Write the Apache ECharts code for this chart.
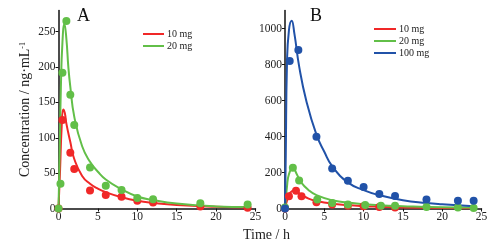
<!DOCTYPE html>
<html><head><meta charset="utf-8">
<script src="https://cdn.jsdelivr.net/npm/echarts@6/dist/echarts.min.js"></script>
<style>html,body{margin:0;padding:0;background:#fff}#c{width:498px;height:248px}</style>
</head><body><div id="c"></div>
<script>
// ---- Panel A data ----
const aRedPtT = [0, 0.5, 1.5, 2, 4, 6, 8, 10, 12, 18, 24];
const aRedPtV = [0, 125, 79, 56, 25.5, 19, 16.5, 11, 8.5, 3, 1];
const aGreenPtT = [0, 0.25, 0.5, 1, 1.5, 2, 4, 6, 8, 10, 12, 18, 24];
const aGreenPtV = [0, 35, 192, 265, 161, 118, 58, 32, 26, 15, 13, 7.5, 5.5];
const aRedFitT = [0, 0.2, 0.4, 0.6, 0.8, 1.0, 1.5, 2, 3, 4, 5, 6, 8, 10, 12, 15, 20, 24];
const aRedFitV = [0, 55, 115, 140, 135, 120, 94, 70, 46, 35, 28, 23, 16, 11, 8, 5, 2.5, 1.5];
const aGreenFitT = [0, 0.15, 0.3, 0.5, 0.75, 1.0, 1.25, 1.5, 2, 3, 4, 5, 6, 8, 10, 12, 15, 20, 24];
const aGreenFitV = [0, 80, 170, 235, 261, 240, 200, 172, 130, 88, 66, 52, 41, 27, 17, 12, 7, 3, 2];
// ---- Panel B data ----
const bRedPtT = [0, 0.5, 1.4, 2.1, 4, 6, 8, 10, 12, 14];
const bRedPtV = [0, 68, 98, 68, 35, 22, 15, 12, 8, 6];
const bGreenPtT = [0, 1, 1.8, 4.1, 6, 8, 10.2, 12.2, 14, 18, 22, 24];
const bGreenPtV = [5, 226, 155, 50, 31, 22, 20, 15, 15, 9, 5, 3];
const bBluePtT = [0, 0.6, 1.7, 4, 6, 8, 10, 12, 14, 18, 22, 24];
const bBluePtV = [0, 820, 880, 398, 222, 154, 120, 81, 70, 50, 43, 43];
const bRedFitT = [0, 0.3, 0.6, 1.2, 2, 3, 4, 6, 8, 10, 12, 15, 20, 24];
const bRedFitV = [0, 50, 85, 100, 78, 55, 42, 27, 19, 13, 10, 6, 3, 2];
const bGreenFitT = [0, 0.25, 0.5, 1, 1.5, 2, 3, 4, 6, 8, 10, 12, 15, 20, 24];
const bGreenFitV = [0, 120, 190, 226, 190, 148, 102, 74, 46, 33, 24, 18, 13, 7, 5];
const bBlueFitT = [0, 0.1, 0.25, 0.5, 0.85, 1.2, 1.8, 2.7, 4, 5, 6, 8, 10, 12, 15, 18, 20, 24];
const bBlueFitV = [0, 300, 800, 990, 1043, 970, 790, 600, 410, 315, 235, 145, 102, 74, 46, 31, 24, 13];
// ---- ticks / labels ----
const xTicks = [0, 5, 10, 15, 20, 25];
const aYTicks = [0, 50, 100, 150, 200, 250];
const bYTicks = [0, 200, 400, 600, 800, 1000];
const legendA = ['10 mg', '20 mg'];
const legendB = ['10 mg', '20 mg', '100 mg'];

const RED = '#f02828', GREEN = '#62bf48', BLUE = '#2152a8';
const FONT = 'Liberation Serif';
const zip = (t, v) => t.map((x, i) => [x, v[i]]);

const axisCommon = {
  axisLine: { show: true, lineStyle: { color: '#111', width: 1.5 } },
  axisTick: { show: true, length: 3, lineStyle: { color: '#111' } },
  splitLine: { show: false },
  axisLabel: { color: '#222', fontFamily: FONT, fontSize: 11.5, margin: 3, formatter: v => String(v) }
};
function xAxis(gi) {
  return Object.assign({}, axisCommon, {
    type: 'value', gridIndex: gi, min: 0, max: 25, interval: 5,
    axisLabel: Object.assign({}, axisCommon.axisLabel, { customValues: xTicks, margin: 2 }),
    axisTick: Object.assign({}, axisCommon.axisTick, { customValues: xTicks })
  });
}
function yAxis(gi, max, ticks, name) {
  const o = Object.assign({}, axisCommon, {
    type: 'value', gridIndex: gi, min: 0, max: max,
    axisLabel: Object.assign({}, axisCommon.axisLabel, { customValues: ticks }),
    axisTick: Object.assign({}, axisCommon.axisTick, { customValues: ticks })
  });
  if (name) {
    o.name = name;
    o.nameLocation = 'middle';
    o.nameRotate = 90;
    o.nameGap = 26;
    o.nameTextStyle = {
      fontFamily: FONT, fontSize: 14, color: '#222',
      rich: { s: { fontFamily: FONT, fontSize: 8, color: '#222', verticalAlign: 'top', padding: [0, 0, 6, 0] } }
    };
  }
  return o;
}
function fit(name, t, v, color, xi) {
  return { type: 'line', name: name, xAxisIndex: xi, yAxisIndex: xi, data: zip(t, v),
    smooth: 0.5, showSymbol: false, symbol: 'none',
    lineStyle: { color: color, width: 2 }, itemStyle: { color: color }, z: 2 };
}
function pts(t, v, color, xi) {
  return { type: 'scatter', xAxisIndex: xi, yAxisIndex: xi, data: zip(t, v),
    symbolSize: 8, itemStyle: { color: color, opacity: 1 }, z: 3 };
}

const chart = echarts.init(document.getElementById('c'), null, { renderer: 'canvas' });
chart.setOption({
  animation: false,
  backgroundColor: '#fff',
  grid: [
    { left: 58.5, top: 10.5, width: 197, height: 198 },
    { left: 285, top: 10.5, width: 196.5, height: 198 }
  ],
  xAxis: [xAxis(0), xAxis(1)],
  yAxis: [
    yAxis(0, 280, aYTicks, 'Concentration / ng·mL{s|-1}'),
    yAxis(1, 1100, bYTicks, null)
  ],
  legend: [
    { data: ['A10', 'A20'], orient: 'vertical', left: 138, top: 23, itemWidth: 21, itemHeight: 2, itemGap: 0,
      icon: 'rect', formatter: n => legendA[['A10', 'A20'].indexOf(n)],
      textStyle: { fontFamily: FONT, fontSize: 10, color: '#222', lineHeight: 12, padding: [0, 0, 0, -2] } },
    { data: ['B10', 'B20', 'B100'], orient: 'vertical', left: 369, top: 18, itemWidth: 22, itemHeight: 2, itemGap: 0,
      icon: 'rect', formatter: n => legendB[['B10', 'B20', 'B100'].indexOf(n)],
      textStyle: { fontFamily: FONT, fontSize: 10, color: '#222', lineHeight: 12, padding: [0, 0, 0, -2] } }
  ],
  graphic: [
    { type: 'text', left: 77, top: 7, style: { text: 'A', font: '18px "Liberation Serif"', fill: '#111' } },
    { type: 'text', left: 310, top: 7, style: { text: 'B', font: '18px "Liberation Serif"', fill: '#111' } },
    { type: 'text', left: 243, top: 228, style: { text: 'Time / h', font: '14px "Liberation Serif"', fill: '#222' } }
  ],
  series: [
    fit('A10', aRedFitT, aRedFitV, RED, 0),
    fit('A20', aGreenFitT, aGreenFitV, GREEN, 0),
    pts(aRedPtT, aRedPtV, RED, 0),
    pts(aGreenPtT, aGreenPtV, GREEN, 0),
    fit('B10', bRedFitT, bRedFitV, RED, 1),
    fit('B20', bGreenFitT, bGreenFitV, GREEN, 1),
    fit('B100', bBlueFitT, bBlueFitV, BLUE, 1),
    pts(bRedPtT, bRedPtV, RED, 1),
    pts(bGreenPtT, bGreenPtV, GREEN, 1),
    pts(bBluePtT, bBluePtV, BLUE, 1)
  ]
});
</script>
</body></html>
